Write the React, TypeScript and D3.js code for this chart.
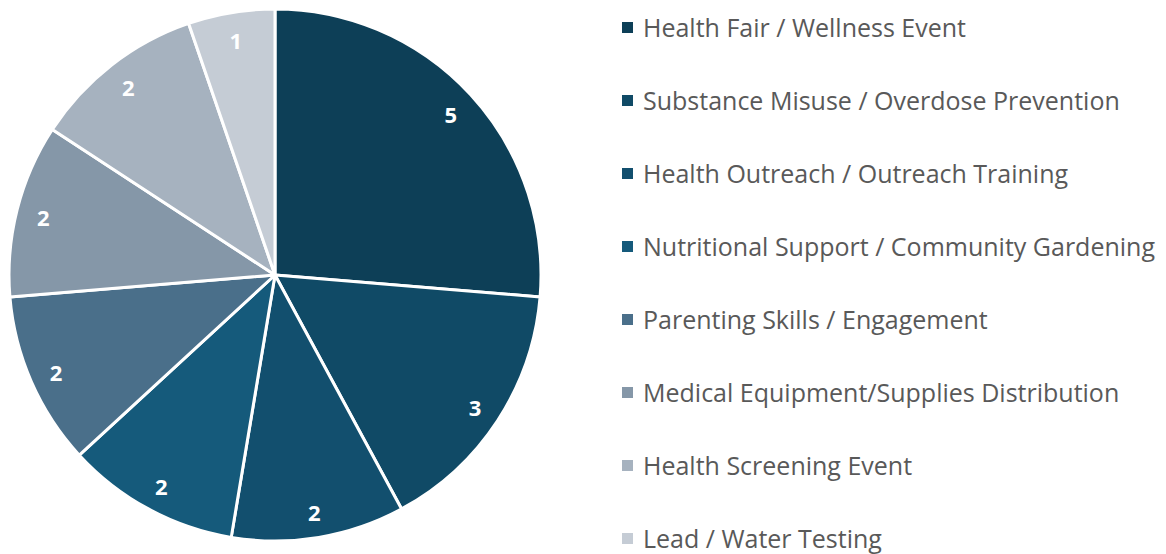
import React from "react";
import * as d3 from "d3";

const categories = [
  "Health Fair / Wellness Event",
  "Substance Misuse / Overdose Prevention",
  "Health Outreach / Outreach Training",
  "Nutritional Support / Community Gardening",
  "Parenting Skills / Engagement",
  "Medical Equipment/Supplies Distribution",
  "Health Screening Event",
  "Lead / Water Testing",
];
const values = [5, 3, 2, 2, 2, 2, 2, 1];
const colors = [
  "#0d3f57",
  "#104a66",
  "#124f6e",
  "#155a7b",
  "#4a6f8a",
  "#8597a8",
  "#a6b2bf",
  "#c5ccd5",
];

const W = 1166;
const H = 554;
const cx = 275;
const cy = 275;
const R = 266;
const labelR = 239;

export default function App() {
  const pie = d3.pie<number>().sort(null).value((d) => d)(values);
  const arc = d3.arc<d3.PieArcDatum<number>>().innerRadius(0).outerRadius(R);
  const labelArc = d3
    .arc<d3.PieArcDatum<number>>()
    .innerRadius(labelR)
    .outerRadius(labelR);
  const legendY = d3
    .scalePoint<string>()
    .domain(categories)
    .range([27, 538]);

  return (
    <svg
      width={W}
      height={H}
      style={{ position: "absolute", left: 0, top: 0, background: "#fff" }}
      fontFamily="'Open Sans', sans-serif"
    >
      <g transform={`translate(${cx},${cy})`}>
        {pie.map((p, i) => (
          <path
            key={i}
            d={arc(p) || ""}
            fill={colors[i]}
            stroke="#fff"
            strokeWidth={3}
            strokeLinejoin="round"
          />
        ))}
        {pie.map((p, i) => {
          const [x, y] = labelArc.centroid(p);
          return (
            <text
              key={i}
              x={x}
              y={y + 1}
              textAnchor="middle"
              dominantBaseline="central"
              fill="#fff"
              fontWeight="bold"
              fontSize={22}
            >
              {values[i]}
            </text>
          );
        })}
      </g>
      <g>
        {categories.map((c, i) => {
          const y = legendY(c) as number;
          return (
            <g key={c}>
              <rect x={622} y={y - 5} width={11} height={11} fill={colors[i]} />
              <text
                x={643}
                y={y}
                dominantBaseline="central"
                fontSize={25}
                fill="#595959"
              >
                {c}
              </text>
            </g>
          );
        })}
      </g>
    </svg>
  );
}
